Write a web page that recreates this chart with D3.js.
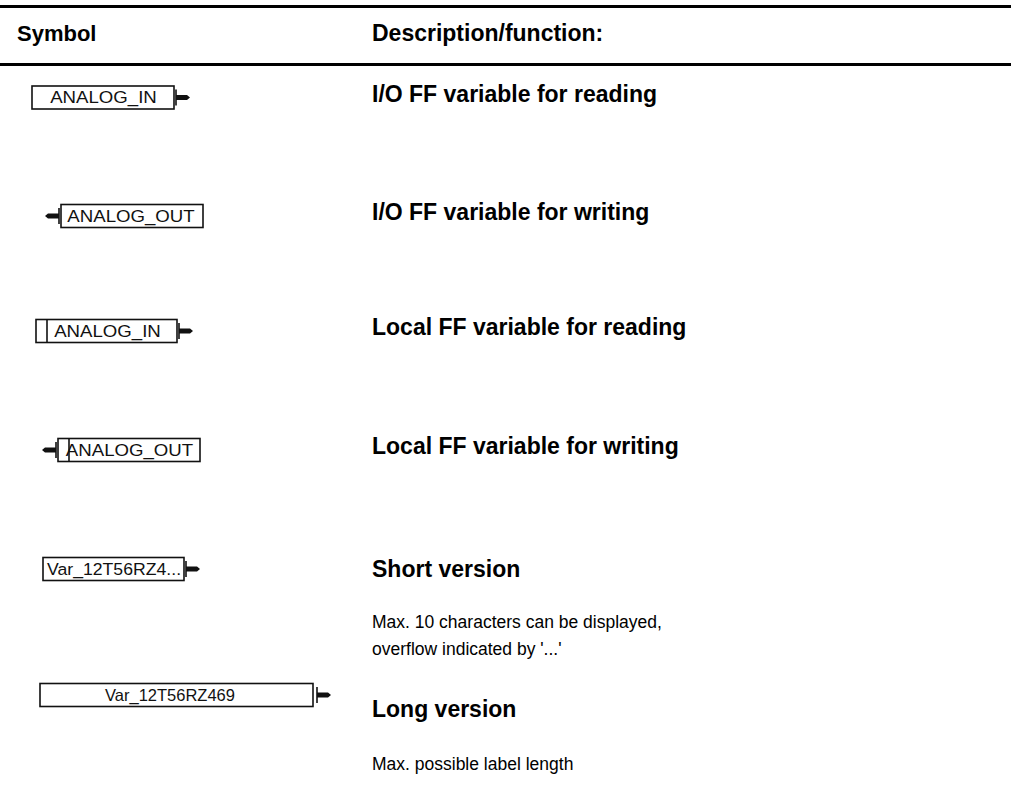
<!DOCTYPE html>
<html>
<head>
<meta charset="utf-8">
<script src="https://cdn.jsdelivr.net/npm/d3@7"></script>
<style>
  html, body { margin: 0; padding: 0; background: #fff; }
  svg { display: block; }
</style>
</head>
<body>
<svg id="chart" width="1011" height="804"></svg>
<script>
// ---- data ----
const headers = ["Symbol", "Description/function:"];
const symbolLabels = ["ANALOG_IN", "ANALOG_OUT", "ANALOG_IN", "ANALOG_OUT", "Var_12T56RZ4...", "Var_12T56RZ469"];
const symbolKinds = ["io", "io", "local", "local", "short", "long"];
const directions = ["read", "write", "read", "write", "read", "read"];
const titles = [
  "I/O FF variable for reading",
  "I/O FF variable for writing",
  "Local FF variable for reading",
  "Local FF variable for writing",
  "Short version",
  "Long version"
];
const notes = [
  [], [], [], [],
  ["Max. 10 characters can be displayed,", "overflow indicated by '...'"],
  ["Max. possible label length"]
];

// ---- layout (positions only) ----
const W = 1011;
const rowCenters = [97.5, 216, 331, 450, 569, 695];
const titleBaselines = [102, 220, 335, 454, 577, 717];
const noteBaselines = [0, 0, 0, 0, 628, 770];
const noteGap = 27;
const boxes = [
  {x0: 32, x1: 174, tx: 103.5},
  {x0: 61, x1: 203, tx: 131},
  {x0: 36, x1: 177, tx: 107.5},
  {x0: 58, x1: 200, tx: 129.5},
  {x0: 43, x1: 184, tx: 47},
  {x0: 40, x1: 313, tx: 170}
];
const boxH = 23;
const descX = 372;

const svg = d3.select("#chart");
const font = "'Liberation Sans', Arial, Helvetica, sans-serif";

// rules
svg.append("rect").attr("x", 0).attr("y", 5).attr("width", W).attr("height", 3).attr("fill", "#000");
svg.append("rect").attr("x", 0).attr("y", 63).attr("width", W).attr("height", 3).attr("fill", "#000");

function addText(g, str, x, y, size, weight) {
  return g.append("text")
    .attr("x", x).attr("y", y)
    .attr("font-family", font)
    .attr("font-size", size)
    .attr("font-weight", weight)
    .attr("fill", "#000")
    .text(str);
}

const hdr = svg.append("g");
addText(hdr, headers[0], 17, 41, 22, "bold");
addText(hdr, headers[1], descX, 41, 23, "bold");

const rows = d3.range(symbolLabels.length).map(i => ({
  label: symbolLabels[i], kind: symbolKinds[i], dir: directions[i],
  title: titles[i], notes: notes[i],
  cy: rowCenters[i], tb: titleBaselines[i], nb: noteBaselines[i], box: boxes[i]
}));

const rowG = svg.selectAll("g.row").data(rows).join("g").attr("class", "row");

rowG.each(function(d) {
  const g = d3.select(this);
  const y0 = d.cy - boxH / 2;
  const {x0, x1, tx} = d.box;
  // box
  g.append("rect")
    .attr("x", x0).attr("y", y0).attr("width", x1 - x0).attr("height", boxH)
    .attr("fill", "#fff").attr("stroke", "#111").attr("stroke-width", 1.6);
  // local compartment line
  if (d.kind === "local") {
    const lx = x0 + 11;
    g.append("line").attr("x1", lx).attr("x2", lx).attr("y1", y0).attr("y2", y0 + boxH)
      .attr("stroke", "#111").attr("stroke-width", 1.6);
  }
  // label
  const anchor = d.kind === "short" ? "start" : "middle";
  const lsx = d.kind === "short" ? 1.07 : (d.kind === "long" ? 1.0 : 1.13);
  g.append("text")
    .attr("transform", `translate(${tx},${d.cy + 5.5}) scale(${lsx},1)`)
    .attr("text-anchor", anchor)
    .attr("font-family", font)
    .attr("font-size", 16.5)
    .attr("fill", "#111")
    .text(d.label);
  // connector
  const cy = d.cy;
  const gap = d.kind === "long" ? 4 : 2;
  const dir = d.dir === "read" ? 1 : -1;
  const s = d.dir === "read" ? x1 + gap : x0 - 2;
  g.append("line").attr("x1", s).attr("x2", s).attr("y1", cy - 8).attr("y2", cy + 8)
    .attr("stroke", "#111").attr("stroke-width", 1.6);
  g.append("path")
    .attr("d", `M${s},${cy - 2.6}L${s + dir * 11},${cy - 2.6}L${s + dir * 14},${cy}L${s + dir * 11},${cy + 2.6}L${s},${cy + 2.6}Z`)
    .attr("fill", "#111");
  // description
  addText(g, d.title, descX, d.tb, 23, "bold");
  d.notes.forEach((n, j) => addText(g, n, descX, d.nb + j * noteGap, 17.5, "normal"));
});
</script>
</body>
</html>
